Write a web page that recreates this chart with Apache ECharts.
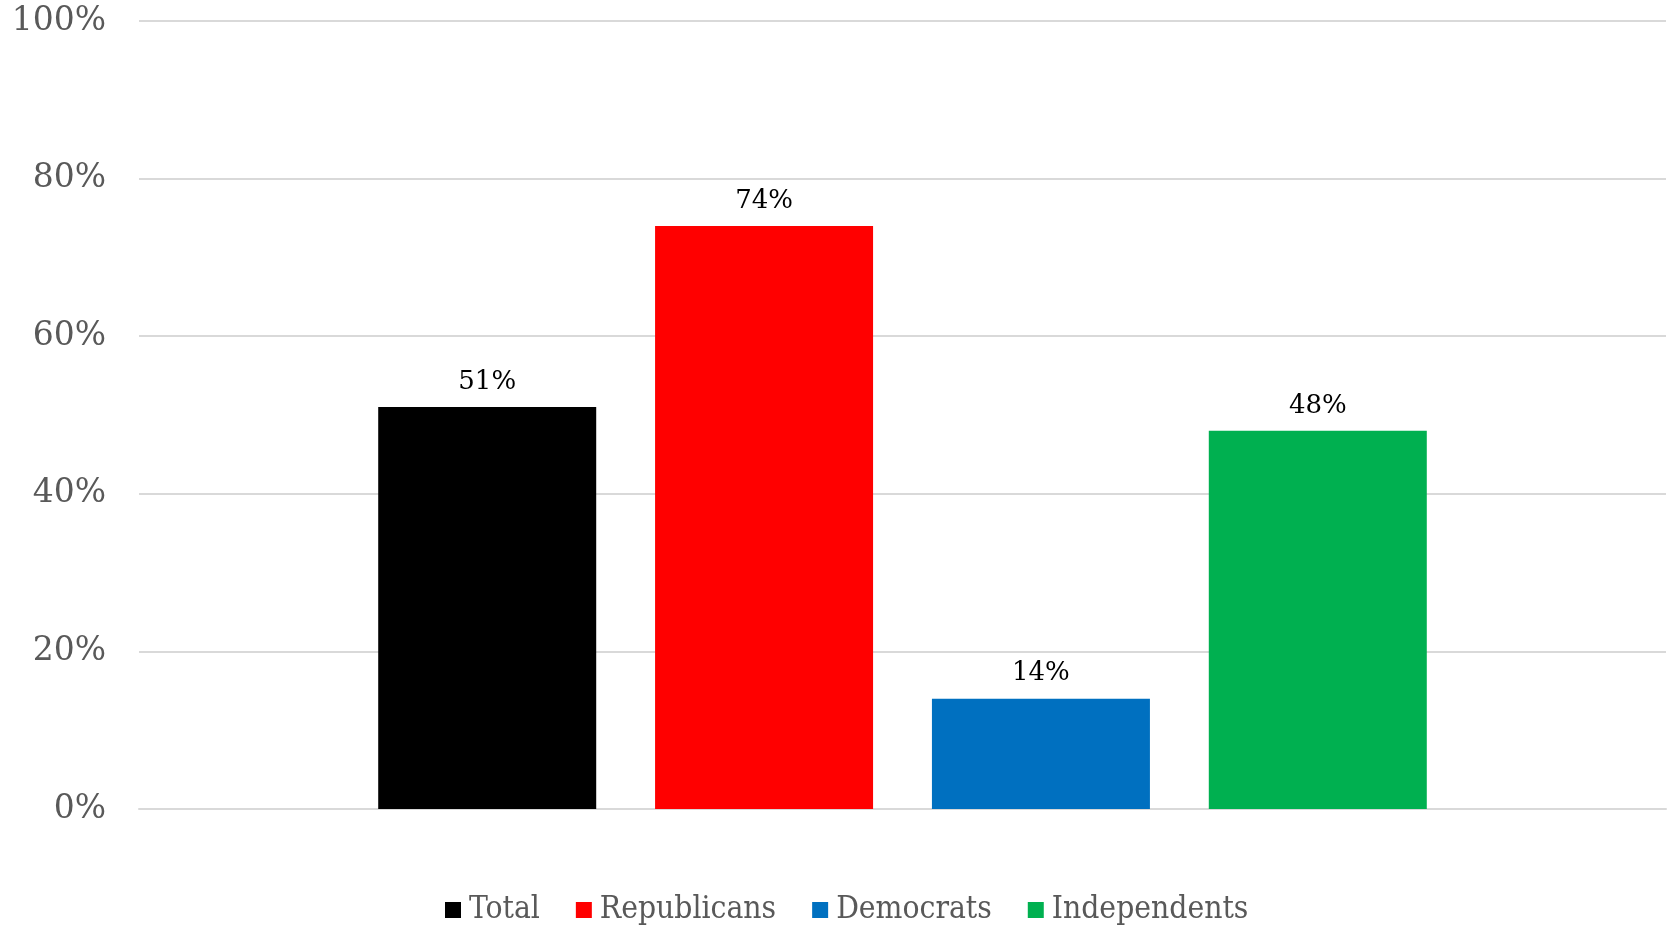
<!DOCTYPE html>
<html>
<head>
<meta charset="utf-8">
<script src="https://cdn.jsdelivr.net/npm/echarts@6/dist/echarts.min.js"></script>
<style>html,body{margin:0;padding:0;background:#fff;}#c{width:1669px;height:925px;}</style>
</head>
<body>
<div id="c"></div>
<script>
const categories = [''];
const seriesNames = ['Total', 'Republicans', 'Democrats', 'Independents'];
const seriesValues = [51, 74, 14, 48];
const seriesColors = ['#000000', '#ff0000', '#0070c0', '#00b050'];
const yTicks = [0, 20, 40, 60, 80, 100];

const chart = echarts.init(document.getElementById('c'));
const serif = '"DejaVu Serif Condensed", "Liberation Serif", serif';
chart.setOption({
  animation: false,
  legend: {
    data: seriesNames,
    left: 445,
    top: 894,
    padding: 0,
    itemWidth: 16,
    itemHeight: 16,
    itemGap: 36,
    icon: 'rect',
    textStyle: { fontFamily: serif, fontSize: 31.5, color: '#595959', padding: [0, 0, 0, 3] }
  },
  grid: { left: 139, right: 3, top: 21, bottom: 116, containLabel: false },
  xAxis: {
    type: 'category',
    data: categories,
    axisLine: { show: true, lineStyle: { color: '#d9d9d9', width: 2 } },
    axisTick: { show: false },
    axisLabel: { show: false }
  },
  yAxis: {
    type: 'value',
    min: yTicks[0], max: yTicks[yTicks.length - 1], interval: yTicks[1] - yTicks[0],
    axisLine: { show: false },
    axisTick: { show: false },
    splitLine: { lineStyle: { color: '#d9d9d9', width: 2 } },
    axisLabel: {
      formatter: v => v + '%',
      fontFamily: '"DejaVu Serif", serif',
      fontSize: 33,
      color: '#595959',
      margin: 33
    }
  },
  series: seriesNames.map((name, i) => ({
    name,
    type: 'bar',
    data: [seriesValues[i]],
    barWidth: 218,
    barGap: '27%',
    itemStyle: { color: seriesColors[i] },
    label: {
      show: true,
      position: 'top',
      distance: 12,
      formatter: p => p.value + '%',
      fontFamily: '"DejaVu Serif", serif',
      fontSize: 26,
      color: '#000000'
    }
  }))
});
</script>
</body>
</html>
